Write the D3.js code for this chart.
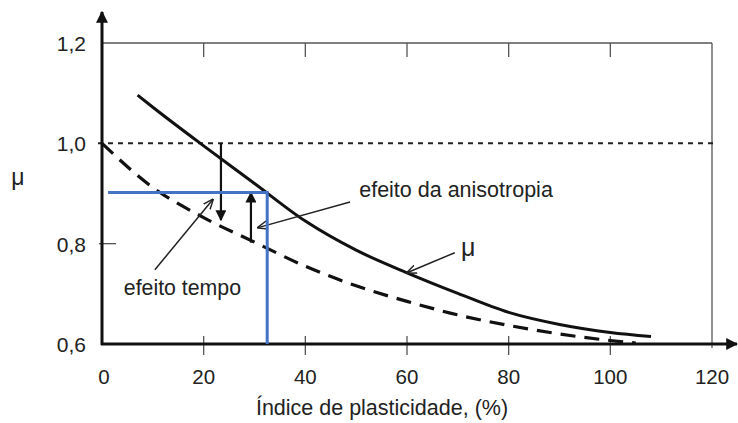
<!DOCTYPE html>
<html><head><meta charset="utf-8">
<script src="https://cdn.jsdelivr.net/npm/d3@7"></script>
<style>body{margin:0;background:#fff}svg{display:block}text{font-family:"Liberation Sans",Arial,sans-serif;fill:#222}</style>
</head><body><svg id="c" width="738" height="423"></svg>
<script>
const xTicks = [0,20,40,60,80,100,120];
const yTicks = [0.6,0.8,1.0,1.2];
const yTickLabels = ["0,6","0,8","1,0","1,2"];
const muX = [7,10,20,30,40,50,60,70,80,90,100,108];
const muY = [1.096,1.072,0.995,0.92,0.845,0.787,0.742,0.701,0.663,0.639,0.623,0.615];
const dashX = [0,10,20,30,40,50,60,70,80,90,100,105];
const dashY = [1.0,0.912,0.852,0.803,0.755,0.716,0.685,0.658,0.637,0.62,0.607,0.602];
const refY = 1.0;
const blueX = [1.2,32.5,32.5];
const blueY = [0.902,0.902,0.6];
const arrowDown = {x:23.4, y0:1.0, y1:0.847};
const arrowUp = {x:29.3, y0:0.802, y1:0.902};
const labels = [
  {text:"efeito da anisotropia", x:50.6, y:0.893, size:21.5, from:[48.8,0.883], to:[30.7,0.832]},
  {text:"efeito tempo", x:4.3, y:0.698, size:21.3, from:[10.4,0.748], to:[21.8,0.888]},
  {text:"μ", x:70.6, y:0.776, size:25, from:[69.4,0.782], to:[60,0.742]}
];
const xTitle = "Índice de plasticidade, (%)";
const yTitle = "μ";

const svg = d3.select("#c");
const x = d3.scaleLinear().domain([0,120]).range([102,712]);
const y = d3.scaleLinear().domain([0.6,1.2]).range([344,43]);

const defs = svg.append("defs");
defs.append("marker").attr("id","fill").attr("viewBox","0 0 10 10").attr("refX",9).attr("refY",5)
  .attr("markerWidth",4).attr("markerHeight",4.5).attr("orient","auto").attr("markerUnits","strokeWidth")
  .append("path").attr("d","M0,0L10,5L0,10z").attr("fill","#111");
defs.append("marker").attr("id","fill2").attr("viewBox","0 0 10 10").attr("refX",9).attr("refY",5)
  .attr("markerWidth",6).attr("markerHeight",5).attr("orient","auto").attr("markerUnits","strokeWidth")
  .append("path").attr("d","M0,0L10,5L0,10z").attr("fill","#111");
defs.append("marker").attr("id","open").attr("viewBox","0 0 10 10").attr("refX",9).attr("refY",5)
  .attr("markerWidth",7).attr("markerHeight",7).attr("orient","auto").attr("markerUnits","strokeWidth")
  .append("path").attr("d","M0,1L10,5L0,9").attr("fill","none").attr("stroke","#222").attr("stroke-width",1.4);

// frame top & right
svg.append("line").attr("x1",x(0)).attr("x2",x(120)).attr("y1",y(1.2)).attr("y2",y(1.2)).attr("stroke","#555").attr("stroke-width",1.3);
svg.append("line").attr("x1",x(120)).attr("x2",x(120)).attr("y1",y(1.2)).attr("y2",y(0.6)+4).attr("stroke","#555").attr("stroke-width",1.3);
svg.selectAll(".tt").data(xTicks.filter(d=>d>0&&d<120)).enter().append("line")
  .attr("x1",d=>x(d)).attr("x2",d=>x(d)).attr("y1",y(1.2)).attr("y2",y(1.2)+14).attr("stroke","#555").attr("stroke-width",1.3);
// bottom ticks
svg.selectAll(".bt").data(xTicks.filter(d=>d>0&&d<120)).enter().append("line")
  .attr("x1",d=>x(d)).attr("x2",d=>x(d)).attr("y1",y(0.6)-8).attr("y2",y(0.6)+11).attr("stroke","#555").attr("stroke-width",1.3);
// y tick at 0.8
svg.append("line").attr("x1",x(0)-3).attr("x2",x(0)+14).attr("y1",y(0.8)).attr("y2",y(0.8)).attr("stroke","#555").attr("stroke-width",1.3);

// dotted reference
svg.append("line").attr("x1",x(0)-4).attr("x2",x(120)+4).attr("y1",y(refY)).attr("y2",y(refY))
  .attr("stroke","#222").attr("stroke-width",2).attr("stroke-dasharray","5,5");

// axes
svg.append("line").attr("x1",x(0)).attr("x2",x(0)).attr("y1",y(0.6)+1).attr("y2",12).attr("stroke","#111").attr("stroke-width",3).attr("marker-end","url(#fill)");
svg.append("line").attr("x1",x(0)-1).attr("x2",737).attr("y1",y(0.6)).attr("y2",y(0.6)).attr("stroke","#111").attr("stroke-width",3).attr("marker-end","url(#fill)");

// tick labels
svg.selectAll(".xl").data(xTicks).enter().append("text").attr("x",d=>x(d)+(d===0?2:0)).attr("y",384)
  .attr("text-anchor","middle").attr("font-size",20.5).text(d=>d);
svg.selectAll(".yl").data(yTicks).enter().append("text").attr("x",86).attr("y",d=>y(d)+8)
  .attr("text-anchor","end").attr("font-size",21).text((d,i)=>yTickLabels[i]);
svg.append("text").attr("x",382).attr("y",415).attr("text-anchor","middle").attr("font-size",21.5).text(xTitle);
svg.append("text").attr("x",18).attr("y",185).attr("text-anchor","middle").attr("font-size",23).text(yTitle);

// curves
const line = d3.line().x(d=>x(d[0])).y(d=>y(d[1])).curve(d3.curveMonotoneX);
svg.append("path").datum(dashX.map((d,i)=>[d,dashY[i]])).attr("d",line).attr("fill","none")
  .attr("stroke","#111").attr("stroke-width",3.2).attr("stroke-dasharray","15,9");
svg.append("path").datum(muX.map((d,i)=>[d,muY[i]])).attr("d",line).attr("fill","none")
  .attr("stroke","#111").attr("stroke-width",3);

// effect arrows
[arrowDown, arrowUp].forEach(a=>{
  svg.append("line").attr("x1",x(a.x)).attr("x2",x(a.x)).attr("y1",y(a.y0)).attr("y2",y(a.y1))
    .attr("stroke","#111").attr("stroke-width",2.2).attr("marker-end","url(#fill2)");
});

// labels with pointer arrows
labels.forEach(l=>{
  svg.append("line").attr("x1",x(l.from[0])).attr("y1",y(l.from[1])).attr("x2",x(l.to[0])).attr("y2",y(l.to[1]))
    .attr("stroke","#222").attr("stroke-width",1.5).attr("marker-end","url(#open)");
  svg.append("text").attr("x",x(l.x)).attr("y",y(l.y)).attr("font-size",l.size).text(l.text);
});

// blue lines
svg.append("path").datum(blueX.map((d,i)=>[d,blueY[i]])).attr("d",d3.line().x(d=>x(d[0])).y(d=>y(d[1])))
  .attr("fill","none").attr("stroke","#4472C4").attr("stroke-width",3);
</script></body></html>
